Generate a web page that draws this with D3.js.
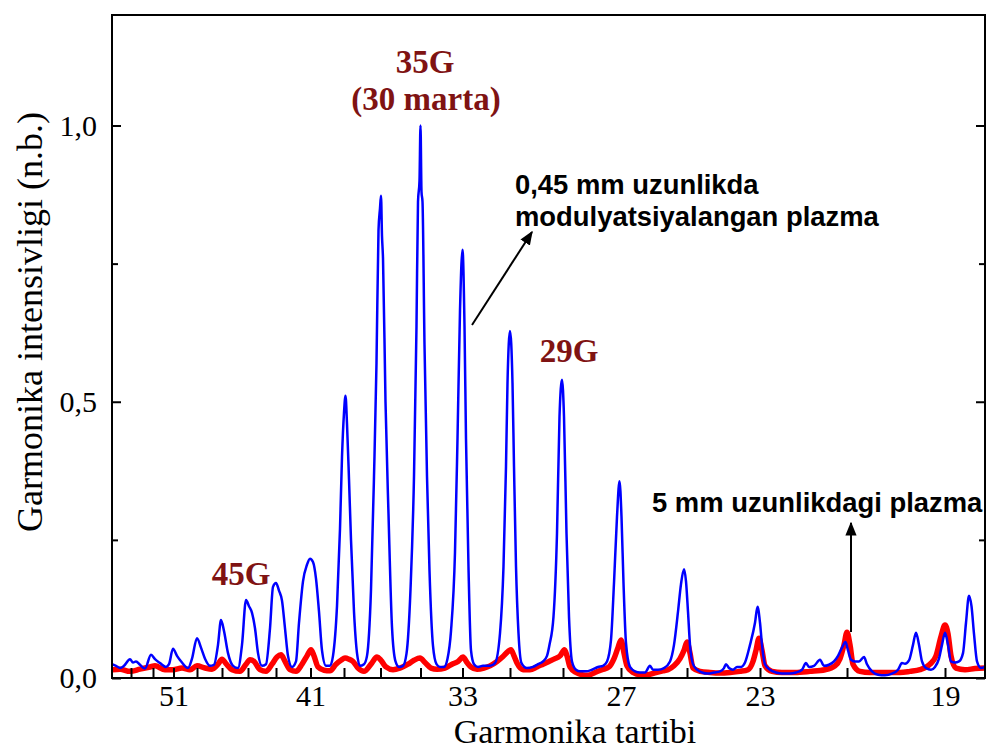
<!DOCTYPE html>
<html>
<head>
<meta charset="utf-8">
<script src="https://cdn.jsdelivr.net/npm/d3@7"></script>
<style>
  html, body { margin: 0; padding: 0; background: #fff; }
  svg { display: block; }
  .axis path { display: none; }
  .axis line { stroke: #000; stroke-width: 2; }
  .axis text { font-family: "Liberation Serif", "Times New Roman", serif; font-size: 30px; fill: #000; }
</style>
</head>
<body>
<div id="chart"></div>
<script>
// harmonic orders (odd) and the detector channel where each one sits
var harmonicOrders   = [55, 53, 51, 49, 47, 45, 43, 41, 39, 37, 35, 33, 31, 29, 27, 25, 23, 21, 19];
var harmonicChannels = [19, 41, 61.5, 85, 110, 136, 164, 198.5, 232, 268.5, 308.5, 350.5, 398, 451, 509, 575, 648, 735, 833];
var labelledOrders   = [51, 41, 33, 27, 23, 19];
var yTicks      = [0, 0.5, 1.0];
var yMinorTicks = [0.25, 0.75];

// 0,45 mm modulated plasma  [channel, intensity]
var blueSpectrum = [
  [0,0.025],[4,0.022],[8,0.018],[12,0.022],[18,0.034],[21,0.028],[24,0.03],[28,0.024],[33,0.017],
  [39,0.042],[43,0.034],[48,0.027],[54,0.02],[57,0.025],[61,0.053],[65,0.04],[70,0.028],[76,0.018],
  [80,0.035],[85,0.072],[89,0.055],[93,0.035],[98,0.022],[102,0.024],[106,0.06],[109,0.105],[112,0.085],
  [116,0.045],[121,0.022],[126,0.018],[130,0.06],[134,0.141],[137,0.13],[140,0.118],[143,0.09],[146,0.045],
  [150,0.022],[154,0.025],[158,0.09],[161,0.165],[164,0.172],[167,0.158],[170,0.14],[173,0.09],[176,0.04],
  [180,0.02],[184,0.03],[187,0.1],[191,0.175],[195,0.205],[198,0.216],[201,0.21],[204,0.18],[207,0.12],
  [210,0.05],[214,0.022],[218,0.022],[221,0.04],[225,0.13],[228,0.27],[230,0.4],[232,0.48],[233.5,0.511],
  [235,0.46],[237,0.36],[239,0.25],[242,0.12],[245,0.045],[248,0.022],[252,0.025],[255,0.04],[259,0.16],
  [262,0.365],[264.5,0.57],[266.5,0.81],[268,0.85],[269,0.873],[270,0.8],[271,0.76],[273.5,0.5],[276.5,0.297],
  [280,0.092],[283.5,0.03],[287,0.02],[291,0.022],[294.5,0.044],[298.5,0.16],[302,0.365],[304.5,0.637],
  [306,0.862],[307.5,0.9],[308.5,1.0],[309.5,0.88],[310.5,0.862],[312.5,0.603],[315,0.365],[317.5,0.194],
  [321,0.058],[324.5,0.025],[328,0.02],[332,0.02],[335.5,0.035],[339,0.085],[343,0.228],[345.5,0.433],
  [348,0.665],[350.5,0.775],[352.5,0.637],[354,0.433],[356.5,0.2],[359,0.05],[362,0.025],[366,0.02],
  [371,0.022],[378,0.022],[383,0.027],[388,0.081],[391.5,0.202],[394,0.383],[395.5,0.534],[398,0.628],
  [400.5,0.534],[402,0.383],[404,0.202],[406.5,0.081],[409.5,0.027],[415,0.018],[421,0.02],[426,0.025],
  [431,0.03],[435,0.04],[437.5,0.06],[441.5,0.111],[445,0.262],[447.5,0.473],[450,0.54],[452,0.473],
  [454.5,0.262],[457,0.111],[460,0.03],[464,0.015],[468,0.012],[474,0.012],[480,0.015],[486,0.02],
  [491,0.022],[495,0.03],[499,0.069],[502,0.172],[505,0.292],[507.5,0.356],[509.5,0.292],[511.5,0.172],
  [514,0.063],[518,0.02],[523,0.012],[528,0.01],[533,0.01],[538,0.022],[541,0.015],[546,0.015],[552,0.018],
  [558,0.03],[562,0.06],[566,0.12],[569,0.17],[572,0.197],[574,0.175],[576,0.12],[578,0.06],[581,0.025],
  [585,0.015],[590,0.01],[596,0.008],[602,0.01],[608,0.012],[612,0.018],[614,0.025],[617,0.018],[621,0.015],
  [625,0.02],[629,0.02],[633,0.028],[638,0.06],[643,0.1],[645.5,0.129],[648,0.1],[650,0.06],[653,0.025],
  [658,0.015],[664,0.01],[670,0.008],[678,0.008],[684,0.01],[690,0.015],[694,0.027],[697,0.02],[702,0.022],
  [708,0.033],[712,0.022],[717,0.024],[722,0.03],[726,0.04],[730,0.055],[733.5,0.065],[736,0.05],[739,0.033],
  [743,0.03],[747,0.03],[752,0.038],[755,0.025],[760,0.012],[766,0.006],[773,0.005],[780,0.008],[786,0.015],
  [790,0.027],[793,0.026],[797,0.032],[801,0.06],[804,0.082],[807,0.06],[810,0.03],[814,0.018],[819,0.015],
  [823,0.02],[827,0.035],[830,0.06],[833,0.082],[836,0.06],[839,0.03],[843,0.028],[847,0.03],[851,0.045],
  [854,0.1],[857,0.149],[859.5,0.13],[862,0.08],[865,0.03],[869,0.018],[873,0.02]
];

// 5 mm plasma  [channel, intensity]
var redSpectrum = [
  [0,0.015],[8,0.016],[18,0.012],[28,0.016],[38,0.02],[43,0.022],[53,0.015],[61,0.015],[70,0.018],
  [78,0.015],[85,0.022],[93,0.018],[100,0.016],[106,0.025],[110,0.034],[114,0.026],[120,0.015],[128,0.012],
  [134,0.025],[138,0.033],[142,0.03],[148,0.015],[154,0.012],[160,0.025],[165,0.038],[169,0.042],[173,0.03],
  [178,0.015],[184,0.012],[190,0.025],[195,0.04],[199,0.051],[202,0.04],[206,0.02],[212,0.014],[218,0.013],
  [224,0.025],[229,0.032],[233,0.036],[237,0.034],[241,0.03],[246,0.018],[252,0.012],[259,0.025],[265,0.038],
  [269,0.032],[274,0.02],[281,0.015],[288,0.018],[296,0.025],[302,0.032],[308,0.036],[313,0.028],[319,0.018],
  [325,0.016],[333,0.018],[340,0.025],[346,0.03],[351,0.038],[355,0.028],[359,0.02],[365,0.016],[372,0.018],
  [378,0.022],[385,0.03],[391,0.039],[396,0.048],[399,0.051],[402,0.04],[405,0.027],[411,0.015],[418,0.015],
  [425,0.02],[431,0.025],[437,0.03],[443,0.035],[448,0.04],[452.5,0.051],[455,0.04],[458,0.02],[464,0.01],
  [470,0.006],[476,0.005],[483,0.01],[490,0.015],[497,0.02],[502,0.035],[506,0.055],[509,0.069],[512,0.045],
  [515,0.022],[521,0.01],[528,0.006],[536,0.006],[544,0.01],[551,0.013],[556,0.015],[562,0.022],[568,0.035],
  [572,0.05],[575,0.065],[578,0.045],[581,0.018],[588,0.012],[598,0.01],[608,0.009],[618,0.01],[628,0.012],
  [636,0.015],[641,0.03],[644,0.05],[647,0.072],[650,0.05],[653,0.022],[660,0.012],[670,0.01],[683,0.01],
  [698,0.012],[713,0.015],[723,0.022],[728,0.035],[732,0.06],[735,0.083],[738,0.06],[741,0.025],[748,0.012],
  [758,0.01],[773,0.01],[788,0.01],[798,0.012],[808,0.015],[818,0.025],[824,0.04],[829,0.075],[833,0.096],
  [836,0.08],[839,0.04],[844,0.018],[853,0.015],[863,0.017],[873,0.018]
];

var W = 987, H = 751;
var margin = {top: 15, right: 2, bottom: 73, left: 112};
var x0 = margin.left, x1 = W - margin.right, y0 = H - margin.bottom, y1 = margin.top;

var svg = d3.select("#chart").append("svg").attr("width", W).attr("height", H);

var x = d3.scaleLinear().domain([0, 873]).range([x0, x1]);
var y = d3.scaleLinear().domain([0, 1.2]).range([y0, y1]);

var fmt = function(d) { return d3.format(".1f")(d).replace(".", ","); };

svg.append("clipPath").attr("id", "plot-clip")
  .append("rect").attr("x", x0).attr("y", y1).attr("width", x1 - x0).attr("height", y0 - y1 + 3);

var line = d3.line()
  .x(function(d) { return x(d[0]); })
  .y(function(d) { return y(d[1]); })
  .curve(d3.curveMonotoneX);

var curves = svg.append("g").attr("clip-path", "url(#plot-clip)");
curves.append("path").datum(redSpectrum)
  .attr("d", line).attr("fill", "none").attr("stroke", "#ff0000")
  .attr("stroke-width", 5.5).attr("stroke-linejoin", "round");
curves.append("path").datum(blueSpectrum)
  .attr("d", line).attr("fill", "none").attr("stroke", "#0000ff")
  .attr("stroke-width", 2.5).attr("stroke-linejoin", "round");

// bottom axis, ticks pointing inward
var xAxis = d3.axisBottom(x)
  .tickValues(harmonicChannels)
  .tickFormat(function(d, i) {
    var o = harmonicOrders[i];
    return labelledOrders.indexOf(o) >= 0 ? o : "";
  })
  .tickSizeInner(-10).tickSizeOuter(0).tickPadding(7);
svg.append("g").attr("class", "axis").attr("transform", "translate(0," + y0 + ")").call(xAxis);

// left axis
svg.append("g").attr("class", "axis").attr("transform", "translate(" + x0 + ",0)")
  .call(d3.axisLeft(y).tickValues(yTicks).tickFormat(fmt).tickSizeInner(-9).tickSizeOuter(0).tickPadding(15));
svg.append("g").attr("class", "axis").attr("transform", "translate(" + x0 + ",0)")
  .call(d3.axisLeft(y).tickValues(yMinorTicks).tickFormat("").tickSizeInner(-6).tickSizeOuter(0));

// right axis, no labels
svg.append("g").attr("class", "axis").attr("transform", "translate(" + x1 + ",0)")
  .call(d3.axisRight(y).tickValues(yTicks).tickFormat("").tickSizeInner(-9).tickSizeOuter(0));
svg.append("g").attr("class", "axis").attr("transform", "translate(" + x1 + ",0)")
  .call(d3.axisRight(y).tickValues(yMinorTicks).tickFormat("").tickSizeInner(-6).tickSizeOuter(0));

// frame
svg.append("rect").attr("x", x0).attr("y", y1).attr("width", x1 - x0).attr("height", y0 - y1)
  .attr("fill", "none").attr("stroke", "#000").attr("stroke-width", 2);

// axis titles
svg.append("text").attr("x", 575).attr("y", 743.4).attr("text-anchor", "middle")
  .style("font-family", "'Liberation Serif', 'Times New Roman', serif").style("font-size", "34px")
  .text("Garmonika tartibi");
svg.append("text").attr("transform", "translate(42,322) rotate(-90)").attr("text-anchor", "middle")
  .style("font-family", "'Liberation Serif', 'Times New Roman', serif").style("font-size", "36px")
  .text("Garmonika intensivligi (n.b.)");

// harmonic labels
var darkRed = "#7f1313";
function hLabel(cx, by, t) {
  svg.append("text").attr("x", cx).attr("y", by).attr("text-anchor", "middle")
    .style("font-family", "'Liberation Serif', 'Times New Roman', serif").style("font-size", "33px")
    .style("font-weight", "bold").attr("fill", darkRed).text(t);
}
hLabel(425, 73, "35G");
hLabel(426, 110, "(30 marta)");
hLabel(569, 362, "29G");
hLabel(241, 585, "45G");

// plasma annotations
function note(lx, by, t) {
  svg.append("text").attr("x", lx).attr("y", by)
    .style("font-family", "'Liberation Sans', Arial, sans-serif").style("font-size", "27.4px")
    .style("font-weight", "bold").attr("fill", "#000").text(t);
}
note(515, 194, "0,45 mm uzunlikda");
note(515, 226, "modulyatsiyalangan plazma");
note(652, 512, "5 mm uzunlikdagi plazma");

svg.append("defs").append("marker").attr("id", "arrow")
  .attr("viewBox", "0 0 10 10").attr("refX", 9).attr("refY", 5)
  .attr("markerWidth", 7).attr("markerHeight", 7).attr("orient", "auto")
  .append("path").attr("d", "M0,1 L10,5 L0,9 Z").attr("fill", "#000");

svg.append("line").attr("x1", 472).attr("y1", 325).attr("x2", 532).attr("y2", 232)
  .attr("stroke", "#000").attr("stroke-width", 2).attr("marker-end", "url(#arrow)");
svg.append("line").attr("x1", 851).attr("y1", 632).attr("x2", 851).attr("y2", 523)
  .attr("stroke", "#000").attr("stroke-width", 2).attr("marker-end", "url(#arrow)");
</script>
</body>
</html>
